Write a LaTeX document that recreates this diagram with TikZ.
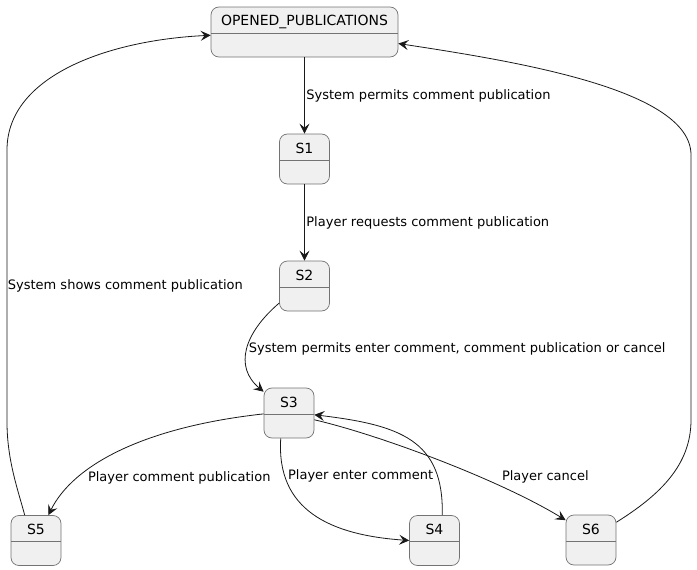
\documentclass[tikz,border=0pt]{standalone}
\usepackage{fontspec}
\setmainfont{DejaVu Sans}
\usetikzlibrary{arrows.meta}

\begin{document}
\begin{tikzpicture}[x=1pt, y=-1pt,
		state/.style={draw=black!55, fill=black!6, line width=0.7pt, rounded corners=8pt, minimum width=50pt, inner xsep=4pt, inner ysep=0pt, text height=19pt, text depth=31pt, font=\fontsize{14}{16}\selectfont,
			path picture={\draw[black!55, line width=0.7pt] ([yshift=-26pt]path picture bounding box.north west) -- ([yshift=-26pt]path picture bounding box.north east);}},
		trans/.style={-{Stealth[length=10pt, width=10pt, inset=4pt]}, line width=0.8pt, black!90},
		lbl/.style={font=\fontsize{13}{15}\selectfont, inner sep=1.5pt, text=black}]
			\useasboundingbox (0,0) rectangle (697,570);
			\node[state, minimum width=187pt] (op) at (304.5,32) {OPENED\_PUBLICATIONS};
			\node[state] (s1) at (304.5,159) {S1};
			\node[state] (s2) at (304.5,286) {S2};
			\node[state] (s3) at (289,413) {S3};
			\node[state] (s4) at (434.5,540.5) {S4};
			\node[state] (s5) at (36,540.5) {S5};
			\node[state] (s6) at (591,540) {S6};
			\draw[trans] (op) -- (s1) node[lbl, midway, right] {System permits comment publication};
			\draw[trans] (s1) -- (s2) node[lbl, midway, right] {Player requests comment publication};
			\draw[trans] (s2.214) .. controls +(-35,30) and +(-30,-25) .. (s3.140) node[lbl, pos=0.5, right] {System permits enter comment, comment publication or cancel};
			\draw[trans] (s3.182) .. controls (144,427) and (73,465) .. (s5.64) node[lbl, pos=0.7, anchor=west, xshift=3pt, yshift=-4pt] {Player comment publication};
			\draw[trans] (s3.252) .. controls (276,510) and (330,535) .. (s4.west) node[lbl, pos=0.2, anchor=west, inner sep=3pt] {Player enter comment};
			\draw[trans] (s4.73) .. controls (444,440) and (400,425) .. (s3.356);
			\draw[trans] (s3.345) .. controls (380,435) and (500,480) .. (s6.142) node[lbl, pos=0.72, anchor=west, yshift=9pt] {Player cancel};
			\draw[trans] (s5.114) .. controls (18,490) and (7,460) .. (7,422) -- (7,150) node[lbl, midway, anchor=west, inner sep=0.5pt] {System shows comment publication} .. controls (7,75) and (110,40) .. (op.182);
			\draw[trans] (s6.35) .. controls (660,495) and (691,465) .. (691,420) -- (691,155) .. controls (691,90) and (520,62) .. (op.353);
		\end{tikzpicture}
\end{document}
